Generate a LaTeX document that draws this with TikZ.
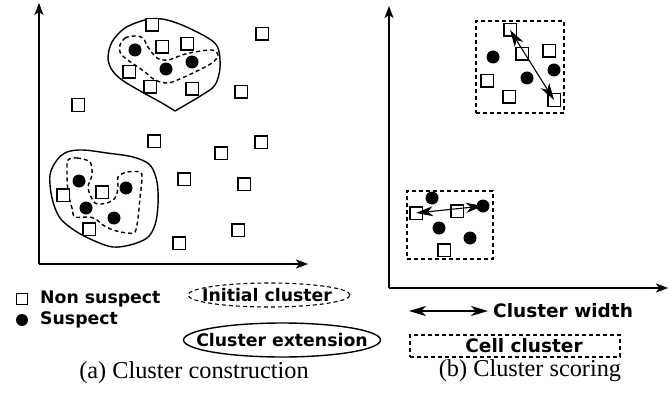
\documentclass[tikz,border=0pt]{standalone}
\usepackage{fontspec}
\setmainfont{Liberation Serif}
\newfontfamily\labfont{DejaVu Sans}
\usetikzlibrary{arrows.meta,shapes.geometric}
\begin{document}
\begin{tikzpicture}[x=1pt,y=-1pt,
  sq/.style={draw, line width=1.5pt, minimum size=12.5pt, inner sep=0pt, fill=white},
  dt/.style={circle, fill=black, minimum size=13pt, inner sep=0pt},
  axis/.style={line width=1.4pt, -{Stealth[length=12pt,width=9pt,inset=3pt]}},
  outl/.style={line width=1.4pt},
  dsh/.style={line width=1.4pt, dash pattern=on 4pt off 3pt},
  dshb/.style={line width=1.1pt, dash pattern=on 4pt off 3pt},
  hd/.tip={Stealth[length=17pt,width=10pt,inset=5pt]},
  wid/.style={line width=1.1pt, hd-hd},
  laba/.style={font=\labfont\bfseries\fontsize{17.3}{20}\selectfont, inner sep=0pt},
  labb/.style={font=\labfont\bfseries\fontsize{18.5}{21}\selectfont, inner sep=0pt},
  captxt/.style={font=\fontsize{24.3}{28}\selectfont, inner sep=0pt}]
\useasboundingbox (0,0) rectangle (668,401);

% ---------- left plot ----------
\coordinate (oa) at (39,264);
\coordinate (ya) at (39,3);
\coordinate (xa) at (308,264);
\draw[axis] (oa) -- (ya);
\draw[axis] (oa) -- (xa);

% cluster outlines (top)
\draw[outl] plot[smooth, tension=0.55] coordinates {(175,111) (162,103) (142,92) (122,80) (112,70) (108,58) (112,42) (125,28) (145,20) (162,19) (182,25) (208,38) (218,48) (220,68) (215,85) (202,95) (175,111)};
\draw[dsh] plot[smooth cycle, tension=0.55] coordinates {(120,45) (125,38) (135,36) (143,38) (148,47) (157,58) (168,60) (182,55) (195,52) (212,50) (218,55) (212,63) (195,72) (182,78) (168,83) (155,80) (145,72) (135,65) (125,58) (120,52)};
% cluster outlines (bottom)
\draw[outl] plot[smooth cycle, tension=0.55] coordinates {(50,175) (57,160) (67,152) (83,150) (107,153) (133,157) (150,165) (157,182) (158,205) (155,225) (147,238) (130,245) (113,247) (97,242) (77,232) (60,218) (52,198)};
\draw[dsh] plot[smooth cycle, tension=0.5] coordinates {(68,160) (77,158) (90,162) (92,175) (88,188) (95,203) (107,203) (115,198) (118,188) (118,177) (127,172) (140,172) (142,178) (140,198) (138,218) (135,232) (127,233) (113,230) (103,225) (97,220) (90,217) (75,217) (72,208) (68,192) (67,172)};

% points
\foreach \n/\p in {a1/{(152,25)}, a2/{(162,47)}, a3/{(187,44)}, a4/{(129,72)}, a5/{(150,87)}, a6/{(192,89)},
  a7/{(262,34)}, a8/{(241,92)}, a9/{(78,105)}, a10/{(154,141)}, a11/{(261,142)}, a12/{(221,153)},
  a13/{(184,179)}, a14/{(244,184)}, a15/{(63,195)}, a16/{(102,192)}, a17/{(89,229)}, a18/{(238,230)}, a19/{(179,243)}}
  \node[sq] (\n) at \p {};
\foreach \n/\p in {b1/{(135,50)}, b2/{(166,69)}, b3/{(192,62)}, b4/{(79,181)}, b5/{(126,188)}, b6/{(86,208)}, b7/{(114,218)}}
  \node[dt] (\n) at \p {};

% legend (a)
\node[sq, minimum size=11pt, line width=1.2pt] (lsq) at (22,299) {};
\node[laba, anchor=west] (lns) at (40,299) {Non suspect};
\node[dt, minimum size=12pt] (ldt) at (22,320) {};
\node[laba, anchor=west] (lsu) at (40,320) {Suspect};
\node[ellipse, draw, dshb, minimum width=162pt, minimum height=24pt, inner sep=0pt] (lic) at (269,295) {};
\node[laba] (lict) at (267,295) {Initial cluster};
\node[ellipse, draw, outl, minimum width=197pt, minimum height=34pt, inner sep=0pt] (lce) at (282,340) {};
\node[laba] (lcet) at (282,340) {Cluster extension};
\node[captxt] (capa) at (194,373) {(a) Cluster construction};

% ---------- right plot ----------
\coordinate (ob) at (389,288);
\coordinate (yb) at (389,6);
\coordinate (xb) at (668,288);
\draw[axis] (ob) -- (yb);
\draw[axis] (ob) -- (xb);

\node[draw, dshb, minimum width=88pt, minimum height=92pt, inner sep=0pt] (box1) at (520,67) {};
\node[draw, dshb, minimum width=86pt, minimum height=68pt, inner sep=0pt] (box2) at (450,225) {};

\foreach \n/\p in {c1/{(510,30)}, c2/{(522,54)}, c3/{(549,51)}, c4/{(487,81)}, c5/{(509,97)}, c6/{(554,100)},
  c7/{(416,213)}, c8/{(457,211)}, c9/{(444,250)}}
  \node[sq] (\n) at \p {};
\foreach \n/\p in {d1/{(493,57)}, d2/{(554,70)}, d3/{(527,78)}, d4/{(432,198)}, d5/{(483,206)}, d6/{(439,228)}, d7/{(470,238)}}
  \node[dt] (\n) at \p {};

\draw[wid] (c1.center) -- (c6.center);
\draw[wid] (c7.center) -- (d5.center);

% legend (b)
\coordinate (wl) at (409,311);
\coordinate (wr) at (488,311);
\draw[wid] (wl) -- (wr);
\node[labb, anchor=west] (lcw) at (493,311) {Cluster width};
\node[draw, dshb, minimum width=210pt, minimum height=22pt, inner sep=0pt] (lcc) at (515,346) {};
\node[labb] (lcct) at (524,346) {Cell cluster};
\node[captxt] (capb) at (530,371) {(b) Cluster scoring};
\end{tikzpicture}
\end{document}
